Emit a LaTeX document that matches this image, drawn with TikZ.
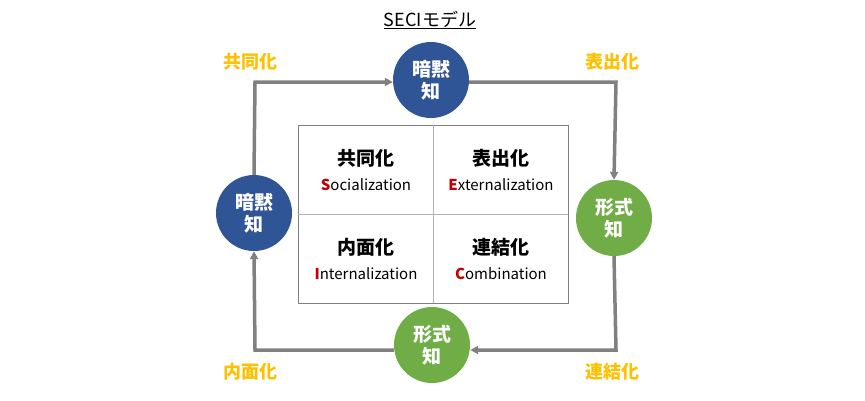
\documentclass[tikz,border=0pt]{standalone}
\usepackage{fontspec}
\setmainfont{Noto Sans CJK JP}
\usetikzlibrary{arrows.meta,positioning}
\definecolor{tacitblue}{HTML}{2F5597}
\definecolor{explgreen}{HTML}{70AD47}
\definecolor{steporange}{HTML}{FFC000}
\definecolor{flowgray}{HTML}{808080}
\definecolor{initred}{HTML}{C00000}
\begin{document}
\begin{tikzpicture}[x=1pt,y=-1pt,>={Triangle[length=8pt,width=8pt]}]
        \tikzset{knode/.style={circle,minimum size=76pt,inner sep=0pt,align=center,text=white,font=\bfseries\fontsize{19}{22}\selectfont},
        tacit/.style={knode,fill=tacitblue},
        explicit/.style={knode,fill=explgreen},
        phase/.style={text=steporange,font=\bfseries\fontsize{18}{20}\selectfont},
        cell/.style={align=center,font=\fontsize{15}{25}\selectfont},
        flow/.style={draw=flowgray,line width=3.5pt,->}
        }
        \useasboundingbox (0,0) rectangle (865,400);
        \node [font=\fontsize{18}{20}\selectfont] (title) at (430,20) {\underline{SECIモデル}};
        %% quadrants
        \draw [flowgray,line width=0.8pt] (298,125) rectangle (568,303);
        \draw [flowgray!60,line width=0.8pt] (433,125) -- (433,303) (298,214) -- (568,214);
        \node [cell] (soc) at (366,170) {\textbf{\fontsize{19}{20}\selectfont 共同化}\\{\color{initred}\textbf{S}}ocialization};
        \node [cell] (ext) at (501,170) {\textbf{\fontsize{19}{20}\selectfont 表出化}\\{\color{initred}\textbf{E}}xternalization};
        \node [cell] (int) at (366,259) {\textbf{\fontsize{19}{20}\selectfont 内面化}\\{\color{initred}\textbf{I}}nternalization};
        \node [cell] (com) at (501,259) {\textbf{\fontsize{19}{20}\selectfont 連結化}\\{\color{initred}\textbf{C}}ombination};
        %% circles
        \node [tacit] (top) at (431,80) {暗黙\\知};
        \node [tacit] (left) at (254,213) {暗黙\\知};
        \node [explicit] (right) at (614,218) {形式\\知};
        \node [explicit] (bottom) at (432,345) {形式\\知};
        \node [phase] (p1) at (250,62) {共同化};
        \node [phase] (p2) at (612,62) {表出化};
        \node [phase] (p3) at (250,372) {内面化};
        \node [phase] (p4) at (612,372) {連結化};
        \coordinate (c1) at (255,82);
        \coordinate (c2) at (616,82);
        \coordinate (c3) at (616,350);
        \coordinate (c4) at (255,350);
%% paths
        \path [flow] (left.north) -- (c1) -- (top.west|-c1);
        \path [flow] (top.east|-c2) -- (c2) -- (right.north);
        \path [flow] (right.south) -- (c3) -- (bottom.east|-c3);
        \path [flow] (bottom.west|-c4) -- (c4) -- (left.south);
\end{tikzpicture}
\end{document}
